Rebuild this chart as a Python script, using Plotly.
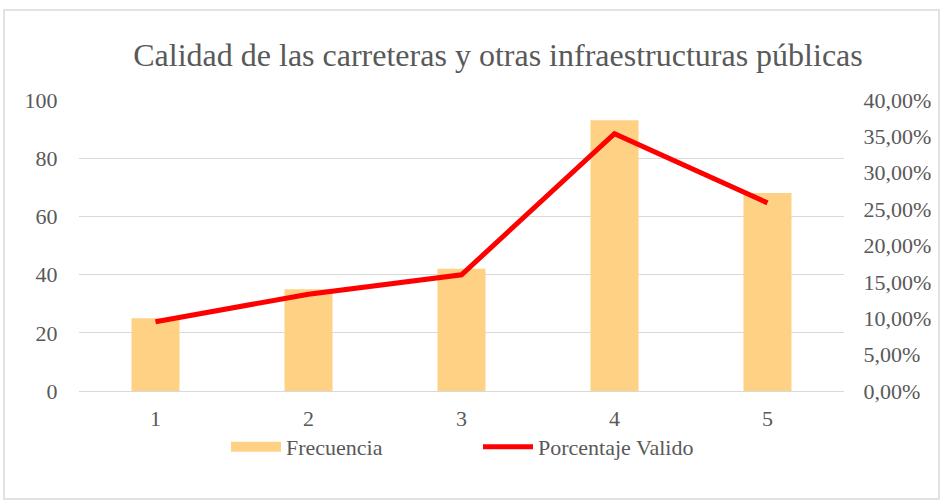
import plotly.graph_objects as go

categories = ["1", "2", "3", "4", "5"]
frecuencia = [25, 35, 42, 93, 68]
porcentaje_valido = [0.0951, 0.1331, 0.1597, 0.3536, 0.2586]

title_text = "Calidad de las carreteras y otras infraestructuras públicas"
font_family = "Liberation Serif, Times New Roman, serif"
text_color = "#595959"
bar_color = "#FFD185"
line_color = "#FF0000"

W, H = 940, 500
L, R, T, B = 79, 96, 100, 109
pw, ph = W - L - R, H - T - B

def px_x(px):
    return (px - L) / pw

def px_y(py):
    return (H - B - py) / ph

fig = go.Figure()
fig.add_trace(go.Bar(
    x=categories, y=frecuencia, name="Frecuencia",
    marker=dict(color=bar_color, line=dict(width=0)),
    yaxis="y", showlegend=False, legendgroup="f",
))
# legend entry drawn as a wide swatch (like the reference)
fig.add_trace(go.Scatter(
    x=[None], y=[None], name="Frecuencia", mode="lines",
    line=dict(color=bar_color, width=11), legendgroup="f", showlegend=True,
))
fig.add_trace(go.Scatter(
    x=categories, y=porcentaje_valido, name="Porcentaje Valido",
    mode="lines", line=dict(color=line_color, width=5),
    yaxis="y2",
))

fig.update_layout(
    width=W, height=H,
    margin=dict(l=L, r=R, t=T, b=B, autoexpand=False),
    paper_bgcolor="white", plot_bgcolor="white",
    font=dict(family=font_family, color=text_color, size=22),
    separators=",.",
    bargap=0.686,
    title=dict(text=title_text, x=498 / W, xref="container", xanchor="center",
               y=1 - 55 / H, yanchor="middle",
               font=dict(size=32, color=text_color, family=font_family)),
    xaxis=dict(showgrid=False, showline=False, zeroline=False, automargin=False,
               ticks="outside", tickcolor="rgba(0,0,0,0)", ticklen=8,
               tickfont=dict(size=22, color=text_color)),
    yaxis=dict(range=[0, 100], dtick=20, showgrid=True, gridcolor="#D9D9D9", gridwidth=1,
               zeroline=True, zerolinecolor="#D9D9D9", zerolinewidth=1, automargin=False,
               ticks="outside", tickcolor="rgba(0,0,0,0)", ticklen=16,
               tickfont=dict(size=22, color=text_color)),
    yaxis2=dict(range=[0, 0.4], dtick=0.05, tickformat=".2%", overlaying="y", side="right",
                showgrid=False, zeroline=False, showline=False, automargin=False,
                ticks="outside", tickcolor="rgba(0,0,0,0)", ticklen=14,
                tickfont=dict(size=22, color=text_color)),
    legend=dict(orientation="h", x=px_x(226), xanchor="left", y=px_y(447), yanchor="middle",
                font=dict(size=22, color=text_color), entrywidth=187, itemwidth=50,
                bgcolor="rgba(0,0,0,0)"),
    showlegend=True,
    shapes=[dict(type="rect", xref="paper", yref="paper",
                 x0=px_x(4), x1=px_x(939), y0=px_y(499), y1=px_y(10),
                 line=dict(color="#D9D9D9", width=1.5), fillcolor="rgba(0,0,0,0)", layer="below")],
)

fig.write_html("out.html", config={"displayModeBar": False},
               post_script="document.body.style.margin='0';")
